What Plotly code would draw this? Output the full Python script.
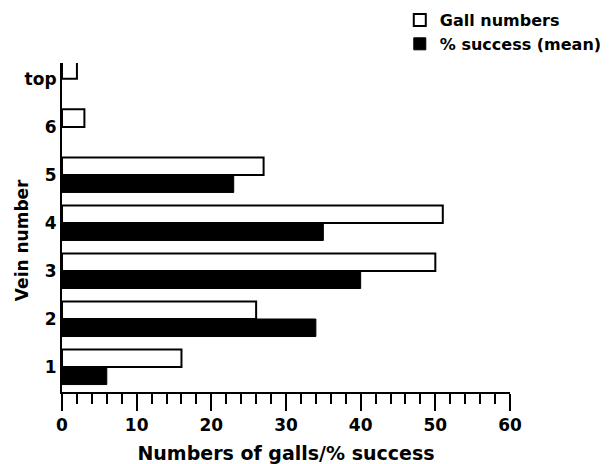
import plotly.graph_objects as go

categories = ["1", "2", "3", "4", "5", "6", "top"]
gall_numbers = [16, 26, 50, 51, 27, 3, 2]
success_mean = [6, 34, 40, 35, 23, None, None]
x_ticks = [0, 10, 20, 30, 40, 50, 60]

FONT = "DejaVu Sans"

fig = go.Figure()
fig.add_trace(go.Bar(
    y=categories, x=success_mean, orientation="h", name="% success (mean)",
    marker=dict(color="black", line=dict(color="black", width=1)),
))
fig.add_trace(go.Bar(
    y=categories, x=gall_numbers, orientation="h", name="Gall numbers",
    marker=dict(color="white", line=dict(color="black", width=2)),
))

fig.update_layout(
    width=609, height=464,
    margin=dict(l=62, r=99, t=63, b=72, autoexpand=False),
    paper_bgcolor="white", plot_bgcolor="white",
    barmode="group", bargap=0.27, bargroupgap=0,
    font=dict(family=FONT, color="black", size=16, weight="bold"),
    legend=dict(
        x=0.754, xanchor="left", y=1.182, yanchor="top",
        traceorder="reversed", bgcolor="rgba(0,0,0,0)",
        font=dict(family=FONT, size=16, color="black", weight="bold"),
        itemclick=False,
    ),
    xaxis=dict(
        range=[0, 60], tickvals=x_ticks, ticktext=[str(v) for v in x_ticks],
        showline=True, linecolor="black", linewidth=2,
        ticks="outside", ticklen=17, tickwidth=2, tickcolor="black",
        minor=dict(dtick=2, ticks="outside", ticklen=10, tickwidth=2, tickcolor="black"),
        showgrid=False, zeroline=False,
        tickfont=dict(family=FONT, size=17, color="black", weight="bold"),
        title=dict(text="Numbers of galls/% success", standoff=15,
                   font=dict(family=FONT, size=19, color="black", weight="bold")),
    ),
    yaxis=dict(
        type="category", categoryorder="array", categoryarray=categories,
        range=[-0.52, 6.33],
        showline=True, linecolor="black", linewidth=2,
        ticks="", showgrid=False, zeroline=False,
        tickfont=dict(family=FONT, size=17, color="black", weight="bold"),
    ),
    annotations=[dict(
        text="Vein number", textangle=-90, showarrow=False,
        xref="paper", yref="paper", x=-0.089, y=0.462,
        xanchor="center", yanchor="middle",
        font=dict(family=FONT, size=17, color="black", weight="bold"),
    )],
)

fig.write_html("out.html")
